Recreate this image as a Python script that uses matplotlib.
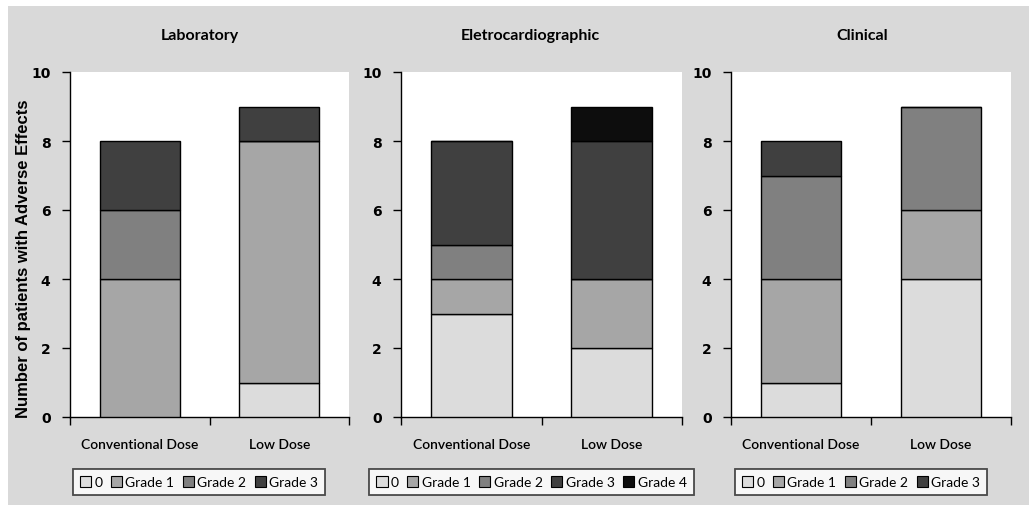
import matplotlib
matplotlib.use("Agg")
import matplotlib.pyplot as plt
from matplotlib.patches import Rectangle, Patch
import numpy as np

W, H = 1029, 506
categories = ["Conventional Dose", "Low Dose"]

panel_titles = ["Laboratory", "Eletrocardiographic", "Clinical"]

lab_grades = ["0", "Grade 1", "Grade 2", "Grade 3"]
lab_values = {
    "0": [0, 1],
    "Grade 1": [4, 7],
    "Grade 2": [2, 0],
    "Grade 3": [2, 1],
}

ecg_grades = ["0", "Grade 1", "Grade 2", "Grade 3", "Grade 4"]
ecg_values = {
    "0": [3, 2],
    "Grade 1": [1, 2],
    "Grade 2": [1, 0],
    "Grade 3": [3, 4],
    "Grade 4": [0, 1],
}

cli_grades = ["0", "Grade 1", "Grade 2", "Grade 3"]
cli_values = {
    "0": [1, 4],
    "Grade 1": [3, 2],
    "Grade 2": [3, 3],
    "Grade 3": [1, 0],
}

colors = {
    "0": "#dcdcdc",
    "Grade 1": "#a6a6a6",
    "Grade 2": "#808080",
    "Grade 3": "#404040",
    "Grade 4": "#0d0d0d",
}

fig = plt.figure(figsize=(W / 100, H / 100), dpi=100)
fig.patch.set_facecolor("white")
fig.patches.append(Rectangle((8 / W, 0), 1 - 8 / W, 1 - 7 / H, transform=fig.transFigure,
                             facecolor="#d9d9d9", edgecolor="none", zorder=-10))

def fx(x):
    return x / W

def fy(y):
    return 1 - y / H

axes_px = [(70, 349), (401, 682), (731, 1011)]
top, bottom = 73, 418
title_x = [200, 530, 862]
legend_px = [(72, 326), (382, 681), (734, 988)]
datasets = [(lab_grades, lab_values), (ecg_grades, ecg_values), (cli_grades, cli_values)]

ui_font = "Lato"

for i, ((x0, x1), (grades, vals)) in enumerate(zip(axes_px, datasets)):
    ax = fig.add_axes([fx(x0), fy(bottom), fx(x1 - x0), (bottom - top) / H])
    ax.set_facecolor("white")
    pos = np.array([0.5, 1.5])
    base = np.zeros(2)
    handles = []
    for g in grades:
        v = np.array(vals[g], dtype=float)
        ax.bar(pos, v, width=0.575, bottom=base, color=colors[g], edgecolor="black",
               linewidth=1.0, zorder=3)
        base += v
        handles.append(Patch(facecolor=colors[g], edgecolor="black", linewidth=0.8, label=g))
    ax.set_xlim(0, 2)
    ax.set_ylim(0, 10)
    ax.set_yticks([0, 2, 4, 6, 8, 10])
    ax.set_xticks([0, 1, 2])
    ax.set_xticklabels([])
    ax.set_xticks(pos, minor=True)
    ax.set_xticklabels(categories, minor=True, fontsize=10, fontfamily=ui_font,
                       fontweight="semibold")
    ax.tick_params(axis="x", which="minor", length=0, pad=15)
    ax.tick_params(axis="x", which="major", length=6, direction="out", width=1)
    ax.tick_params(axis="y", length=6, direction="out", width=1, pad=8)
    for lab in ax.get_yticklabels():
        lab.set_fontweight("bold")
        lab.set_fontsize(10)
        lab.set_fontfamily("DejaVu Sans")
    for s in ["top", "right"]:
        ax.spines[s].set_visible(False)
    ax.spines["left"].set_linewidth(1)
    ax.spines["bottom"].set_linewidth(1)

    fig.text(fx(title_x[i]), fy(36), panel_titles[i], ha="center", va="center",
             fontsize=11.5, fontfamily=ui_font, fontweight="bold")

    lx0, lx1 = legend_px[i]
    leg = fig.legend(handles=handles, loc="center", ncol=len(grades),
                     bbox_to_anchor=(fx((lx0 + lx1) / 2), fy(483)),
                     frameon=True, fancybox=False, edgecolor="#222222",
                     prop={"family": ui_font, "size": 10},
                     handlelength=0.8, handleheight=0.8, handletextpad=0.25,
                     columnspacing=0.6, borderpad=0.5)
    leg.get_frame().set_linewidth(1.3)

fig.text(fx(24), fy(259), "Number of patients with Adverse Effects", rotation=90,
         ha="center", va="center", fontsize=12, fontweight="bold",
         fontfamily="Liberation Sans")

fig.savefig("out.png", dpi=100, facecolor=fig.get_facecolor())
